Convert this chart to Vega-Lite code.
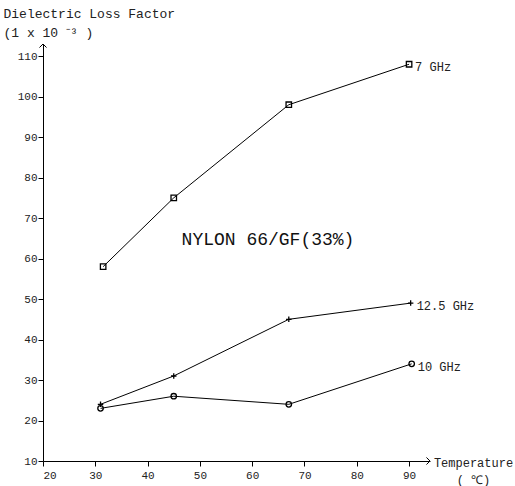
{
  "$schema": "https://vega.github.io/schema/vega-lite/v6.json",
  "autosize": "none",
  "width": 387,
  "height": 417,
  "padding": {"left": 43, "top": 44, "right": 85, "bottom": 25},
  "background": "white",
  "config": {
    "view": {"stroke": null},
    "font": "Liberation Mono",
    "axis": {
      "grid": false,
      "domainColor": "#000",
      "domainWidth": 1,
      "tickColor": "#000",
      "tickSize": 5,
      "labelFont": "Liberation Mono",
      "labelFontSize": 11,
      "labelColor": "#222",
      "titleFont": "Liberation Mono",
      "titleFontSize": 12,
      "titleFontWeight": "normal",
      "titleColor": "#222"
    }
  },
  "datasets": {
    "series": [
      {"freq": "7 GHz", "temp": 31.5, "loss": 58},
      {"freq": "7 GHz", "temp": 45, "loss": 75},
      {"freq": "7 GHz", "temp": 67, "loss": 98},
      {"freq": "7 GHz", "temp": 90, "loss": 108},
      {"freq": "12.5 GHz", "temp": 31, "loss": 24},
      {"freq": "12.5 GHz", "temp": 45, "loss": 31},
      {"freq": "12.5 GHz", "temp": 67, "loss": 45},
      {"freq": "12.5 GHz", "temp": 90.3, "loss": 49},
      {"freq": "10 GHz", "temp": 31, "loss": 23},
      {"freq": "10 GHz", "temp": 45, "loss": 26},
      {"freq": "10 GHz", "temp": 67, "loss": 24},
      {"freq": "10 GHz", "temp": 90.5, "loss": 34}
    ],
    "arrows": [
      {"dir": "right", "temp": 94, "loss": 10},
      {"dir": "up", "temp": 20, "loss": 113}
    ],
    "note": [
      {"temp": 46.5, "loss": 64.5, "label": "NYLON 66/GF(33%)"}
    ]
  },
  "layer": [
    {
      "data": {"name": "series"},
      "mark": {"type": "line", "color": "#000", "strokeWidth": 1},
      "encoding": {
        "x": {
          "field": "temp", "type": "quantitative",
          "scale": {"domain": [20, 94], "nice": false, "zero": false},
          "axis": {
            "values": [20, 30, 40, 50, 60, 70, 80, 90],
            "labelPadding": 3,
            "title": ["Temperature", "( ℃)"],
            "titleAlign": "center",
            "titleBaseline": "middle",
            "titleX": 430,
            "titleY": 1,
            "titleLineHeight": 17
          }
        },
        "y": {
          "field": "loss", "type": "quantitative",
          "scale": {"domain": [10, 113], "nice": false, "zero": false},
          "axis": {
            "values": [10, 20, 30, 40, 50, 60, 70, 80, 90, 100, 110],
            "labelPadding": 1,
            "title": ["Dielectric Loss Factor", "(1 x 10 ⁻³ )"],
            "titleFontSize": 13,
            "titleAngle": 0,
            "titleAlign": "left",
            "titleBaseline": "alphabetic",
            "titleX": -40,
            "titleY": -27,
            "titleLineHeight": 19
          }
        },
        "detail": {"field": "freq"}
      }
    },
    {
      "data": {"name": "series"},
      "mark": {"type": "point", "filled": false, "color": "#000", "strokeWidth": 1.3, "size": 30, "opacity": 1},
      "encoding": {
        "x": {"field": "temp", "type": "quantitative"},
        "y": {"field": "loss", "type": "quantitative"},
        "shape": {
          "field": "freq",
          "scale": {"domain": ["7 GHz", "12.5 GHz", "10 GHz"], "range": ["square", "M -1 0 L 1 0 M 0 -1 L 0 1", "circle"]},
          "legend": null
        }
      }
    },
    {
      "data": {"name": "series"},
      "transform": [{"filter": "datum.temp > 85"}],
      "mark": {"type": "text", "align": "left", "baseline": "middle", "dx": 6, "dy": 3, "fontSize": 12, "font": "Liberation Mono", "color": "#222"},
      "encoding": {
        "x": {"field": "temp", "type": "quantitative"},
        "y": {"field": "loss", "type": "quantitative"},
        "text": {"field": "freq"}
      }
    },
    {
      "data": {"name": "note"},
      "mark": {"type": "text", "align": "left", "baseline": "middle", "fontSize": 18, "font": "Liberation Mono", "color": "#111"},
      "encoding": {
        "x": {"field": "temp", "type": "quantitative"},
        "y": {"field": "loss", "type": "quantitative"},
        "text": {"field": "label"}
      }
    },
    {
      "data": {"name": "arrows"},
      "mark": {"type": "point", "filled": false, "color": "#000", "strokeWidth": 1, "size": 50, "opacity": 1},
      "encoding": {
        "x": {"field": "temp", "type": "quantitative"},
        "y": {"field": "loss", "type": "quantitative"},
        "shape": {
          "field": "dir",
          "scale": {"domain": ["right", "up"], "range": ["M -1 -1 L 0 0 L -1 1", "M -1 1 L 0 0 L 1 1"]},
          "legend": null
        }
      }
    }
  ],
  "resolve": {"scale": {"shape": "independent"}}
}
